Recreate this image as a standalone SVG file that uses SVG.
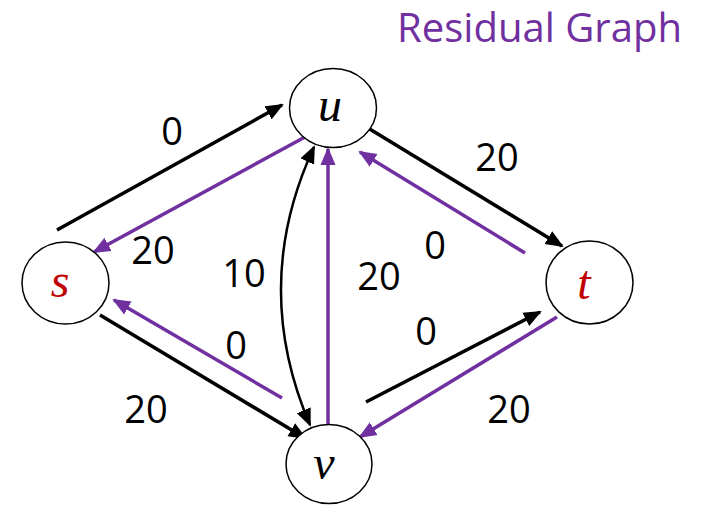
<svg xmlns="http://www.w3.org/2000/svg" width="704" height="508" viewBox="0 0 704 508">
<style>
.node{fill:#fff;stroke:#000;stroke-width:1.5}
.lbl{font-family:"Liberation Serif",serif;font-style:italic;font-size:48px;text-anchor:middle}
.blk{stroke:#000;stroke-width:3.5;fill:none;marker-end:url(#ab)}
.pur{stroke:#7030A0;stroke-width:3.5;fill:none;marker-end:url(#ap)}
.w{font-family:"Open Sans",sans-serif;font-size:38px;text-anchor:middle;fill:#000}
</style>
<defs>
<marker id="ab" markerUnits="userSpaceOnUse" markerWidth="20" markerHeight="16" refX="16" refY="7.5" orient="auto-start-reverse" viewBox="0 0 20 15"><path d="M0,0 L18,7.5 L0,15 z" fill="#000"/></marker>
<marker id="ap" markerUnits="userSpaceOnUse" markerWidth="20" markerHeight="16" refX="16" refY="7.5" orient="auto" viewBox="0 0 20 15"><path d="M0,0 L18,7.5 L0,15 z" fill="#7030A0"/></marker>
</defs>
<text x="397" y="42" font-family="Open Sans, sans-serif" font-size="40" fill="#7030A0" textLength="285" lengthAdjust="spacingAndGlyphs">Residual Graph</text>
<g id="connectors">
<line class="blk" x1="57" y1="230" x2="282" y2="105"/>
<line class="pur" x1="305" y1="137" x2="94" y2="252"/>
<line class="blk" x1="368" y1="128" x2="562" y2="246"/>
<line class="pur" x1="525" y1="253" x2="360" y2="152"/>
<line class="blk" x1="100" y1="315" x2="305" y2="438"/>
<line class="pur" x1="282" y1="398" x2="114" y2="300"/>
<line class="blk" x1="366" y1="402" x2="540" y2="312"/>
<line class="pur" x1="557" y1="317" x2="360" y2="437"/>
<line class="pur" x1="328" y1="425" x2="328" y2="149"/>
<path d="M314,147 Q250,285 310,425" fill="none" stroke="#000" stroke-width="2.5" marker-start="url(#ab)" marker-end="url(#ab)"/>
</g>
<g id="u"><ellipse class="node" cx="333" cy="108" rx="43.5" ry="39.5"/><text class="lbl" x="330" y="121">u</text></g>
<g id="v"><ellipse class="node" cx="329" cy="464" rx="43" ry="39.5"/><text class="lbl" x="324" y="479">v</text></g>
<g id="s"><ellipse class="node" cx="65.5" cy="283" rx="43.5" ry="41"/><text class="lbl" x="60" y="297" fill="#C00000">s</text></g>
<g id="t"><ellipse class="node" cx="589.5" cy="282.5" rx="43.5" ry="41.5"/><text class="lbl" x="584" y="299" fill="#C00000">t</text></g>
<g id="labels">
<text class="w" x="172" y="145">0</text>
<text class="w" x="497" y="171">20</text>
<text class="w" x="153" y="264">20</text>
<text class="w" x="244" y="287">10</text>
<text class="w" x="379" y="290">20</text>
<text class="w" x="435" y="259">0</text>
<text class="w" x="236" y="359">0</text>
<text class="w" x="426" y="345">0</text>
<text class="w" x="146" y="423">20</text>
<text class="w" x="509" y="423">20</text>
</g>
</svg>
